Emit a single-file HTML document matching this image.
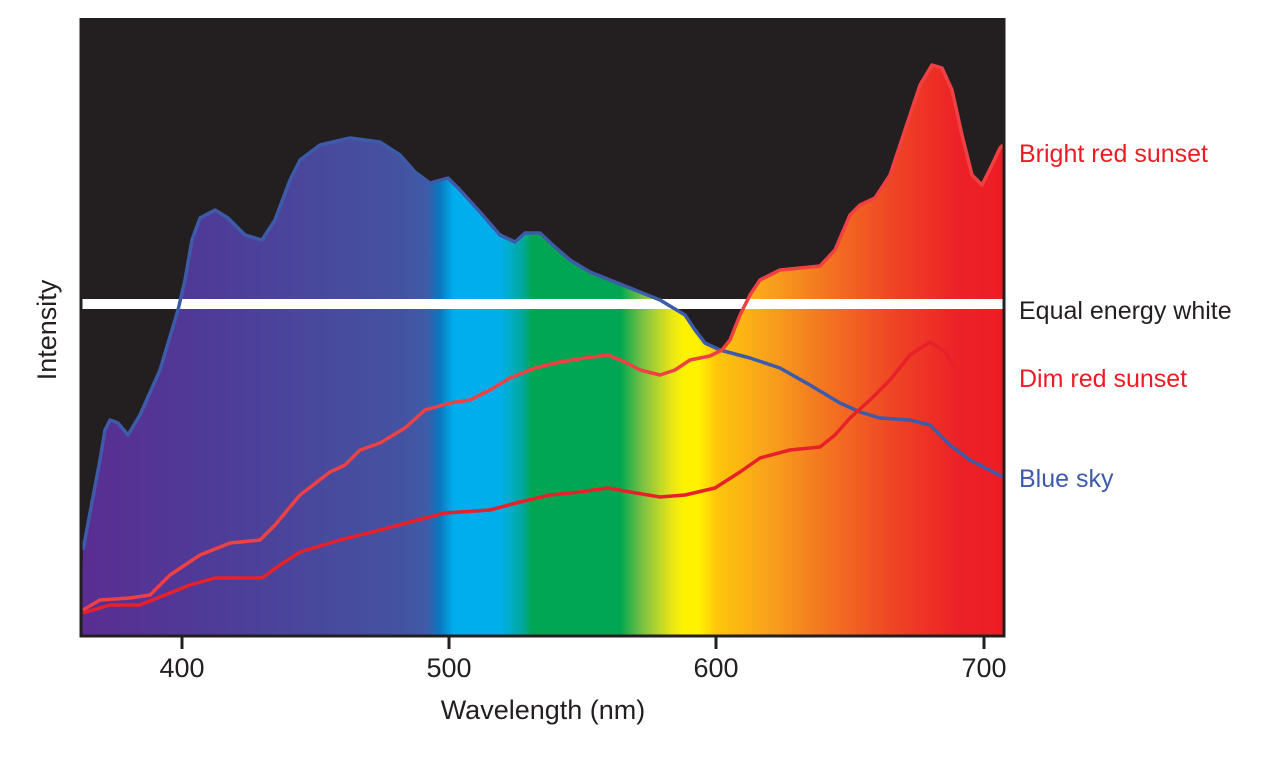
<!DOCTYPE html>
<html><head><style>
html,body{margin:0;padding:0;background:#fff;}
svg{display:block;font-family:"Liberation Sans",Arial,sans-serif;}
</style></head><body>
<svg width="1281" height="766" viewBox="0 0 1281 766">
<defs>
<linearGradient id="sp" x1="80" y1="0" x2="1003" y2="0" gradientUnits="userSpaceOnUse">
<stop offset="0" stop-color="#5a2d91"/>
<stop offset="0.13" stop-color="#4f3a97"/>
<stop offset="0.35" stop-color="#4453a1"/>
<stop offset="0.375" stop-color="#3f5ba7"/>
<stop offset="0.39" stop-color="#0a78c0"/>
<stop offset="0.405" stop-color="#00aeef"/>
<stop offset="0.455" stop-color="#00aeea"/>
<stop offset="0.48" stop-color="#00a99a"/>
<stop offset="0.49" stop-color="#00a651"/>
<stop offset="0.585" stop-color="#00a651"/>
<stop offset="0.61" stop-color="#7dc242"/>
<stop offset="0.64" stop-color="#e6e41a"/>
<stop offset="0.655" stop-color="#fff200"/>
<stop offset="0.67" stop-color="#fff200"/>
<stop offset="0.69" stop-color="#ffc60b"/>
<stop offset="0.74" stop-color="#f9a51b"/>
<stop offset="0.8" stop-color="#f47a20"/>
<stop offset="0.88" stop-color="#ef4524"/>
<stop offset="0.95" stop-color="#ec2227"/>
<stop offset="1" stop-color="#ed1c24"/>
</linearGradient>
</defs>
<rect x="80" y="18" width="924" height="618" fill="#231f20"/>
<polygon fill="url(#sp)" points="81,636 83,550 100,460 105,430 110,420 118,423 128,435 140,415 160,370 178,310 185,280 192,240 200,218 215,210 228,218 245,235 262,240 275,220 290,180 300,160 320,145 350,138 380,142 400,155 415,172 430,183 448,178 460,190 480,212 500,235 515,242 525,233 540,233 555,247 570,260 590,272 610,280 640,292 660,300 685,315 695,330 705,343 720,350 730,340 740,315 750,295 760,280 780,270 800,268 820,266 835,250 850,215 860,205 875,198 890,175 905,130 920,85 932,65 942,68 952,90 962,135 972,175 982,185 992,165 1000,148 1003,145 1003,636"/>
<rect x="82" y="299" width="921" height="10" fill="#fff"/>
<polyline fill="none" stroke="#3d5ba9" stroke-width="3.5" stroke-linejoin="round" points="83,550 100,460 105,430 110,420 118,423 128,435 140,415 160,370 178,310 185,280 192,240 200,218 215,210 228,218 245,235 262,240 275,220 290,180 300,160 320,145 350,138 380,142 400,155 415,172 430,183 448,178 460,190 480,212 500,235 515,242 525,233 540,233 555,247 570,260 590,272 610,280 640,292 660,300 685,315 695,330 705,343 720,350 750,358 780,368 810,385 840,403 860,412 880,418 910,420 930,425 950,445 970,460 1003,477"/>
<polyline fill="none" stroke="#ef4044" stroke-width="3.5" stroke-linejoin="round" points="83,610 100,600 130,598 150,595 170,575 200,555 230,543 260,540 275,525 300,495 330,472 345,465 360,450 380,443 405,428 425,410 450,403 470,400 490,390 510,378 535,368 560,362 585,358 608,355 625,362 640,370 660,375 675,370 690,360 710,356 722,350 730,340 740,315 750,295 760,280 780,270 800,268 820,266 835,250 850,215 860,205 875,198 890,175 905,130 920,85 932,65 942,68 952,90 962,135 972,175 982,185 992,165 1000,148 1003,145"/>
<polyline fill="none" stroke="#e8202a" stroke-width="3.5" stroke-linejoin="round" points="83,613 110,605 140,605 160,597 190,585 215,578 262,578 280,565 300,552 340,540 380,530 410,522 445,513 490,510 520,502 550,495 580,492 608,488 630,492 660,497 685,495 715,488 740,472 760,458 790,450 820,447 835,435 850,418 870,400 890,380 910,355 930,342 945,352 955,368"/>
<polyline fill="none" stroke="#231f20" stroke-width="3" points="81,18 81,636 1004,636 1004,18"/>
<g stroke="#231f20" stroke-width="3">
<line x1="182" y1="636" x2="182" y2="649"/><line x1="449" y1="636" x2="449" y2="649"/>
<line x1="716" y1="636" x2="716" y2="649"/><line x1="984" y1="636" x2="984" y2="649"/>
</g>
<g font-size="27" fill="#231f20" text-anchor="middle">
<text x="182" y="677">400</text><text x="449" y="677">500</text>
<text x="716" y="677">600</text><text x="984" y="677">700</text>
<text x="543" y="719">Wavelength (nm)</text>
<text transform="translate(56,330) rotate(-90)">Intensity</text>
</g>
<g font-size="25">
<text x="1019" y="162" fill="#ed1c24">Bright red sunset</text>
<text x="1019" y="319" fill="#231f20">Equal energy white</text>
<text x="1019" y="387" fill="#ed1c24">Dim red sunset</text>
<text x="1019" y="487" fill="#3d5ba9">Blue sky</text>
</g>
</svg>
</body></html>
